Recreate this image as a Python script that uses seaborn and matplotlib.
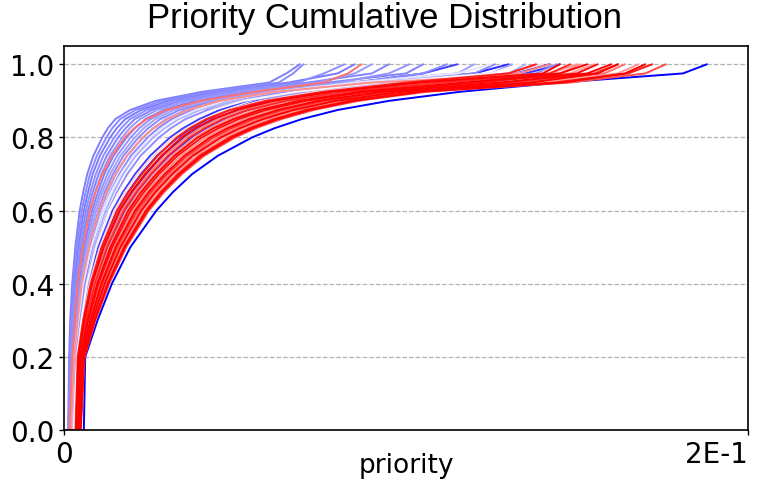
import matplotlib
matplotlib.use("Agg")
import matplotlib.pyplot as plt
import seaborn as sns
import pandas as pd

Q_LEVELS = [0.0, 0.2, 0.3, 0.4, 0.5, 0.6, 0.65, 0.7, 0.75, 0.8,
            0.825, 0.85, 0.875, 0.9, 0.925, 0.95, 0.975, 1.0]

# light blue runs (steep, left bundle)
LIGHT_BLUE_RUNS = [
    [.0012, .0015, .0018, .0024, .0033, .0046, .0056, .0068, .0086, .0112, .0128, .0150, .0193, .0268, .0405, .0600, .0650, .0690],
    [.0013, .0017, .0021, .0027, .0037, .0052, .0063, .0076, .0096, .0124, .0141, .0164, .0209, .0286, .0427, .0628, .0670, .0700],
    [.0014, .0019, .0023, .0030, .0042, .0058, .0070, .0084, .0105, .0135, .0154, .0179, .0225, .0305, .0449, .0656, .0800, .0850],
    [.0015, .0020, .0026, .0034, .0046, .0064, .0077, .0093, .0115, .0147, .0167, .0193, .0241, .0323, .0471, .0684, .0760, .0820],
    [.0015, .0022, .0028, .0037, .0050, .0070, .0084, .0101, .0125, .0158, .0180, .0207, .0257, .0341, .0493, .0712, .0900, .0950],
    [.0016, .0024, .0031, .0040, .0054, .0075, .0091, .0109, .0134, .0170, .0192, .0222, .0272, .0360, .0515, .0740, .0850, .0900],
    [.0017, .0026, .0033, .0044, .0059, .0082, .0099, .0118, .0145, .0183, .0207, .0238, .0291, .0381, .0540, .0772, .1000, .1050],
    [.0018, .0028, .0036, .0047, .0064, .0088, .0106, .0127, .0155, .0195, .0220, .0253, .0307, .0399, .0563, .0800, .0950, .1010],
    [.0019, .0029, .0039, .0050, .0068, .0094, .0112, .0135, .0165, .0207, .0233, .0267, .0322, .0417, .0585, .0828, .1150, .1200],
    [.0020, .0031, .0041, .0053, .0072, .0100, .0119, .0143, .0174, .0218, .0246, .0281, .0338, .0436, .0607, .0856, .1050, .1120],
    [.0021, .0033, .0044, .0057, .0077, .0106, .0127, .0152, .0185, .0232, .0260, .0298, .0356, .0457, .0632, .0888, .1250, .1310],
    [.0022, .0035, .0047, .0061, .0082, .0113, .0135, .0162, .0196, .0245, .0275, .0314, .0375, .0478, .0657, .0920, .1200, .1260],
    [.0023, .0038, .0050, .0065, .0088, .0122, .0145, .0173, .0210, .0261, .0294, .0335, .0397, .0504, .0689, .0960, .1300, .1350],
    [.0024, .0040, .0054, .0070, .0094, .0130, .0155, .0185, .0224, .0278, .0312, .0355, .0420, .0530, .0720, .1000, .1380, .1440],
]
LIGHT_BLUE_SHADES = [0.25, 0.27, 0.24, 0.28, 0.26, 0.3, 0.25, 0.29, 0.32, 0.27,
                     0.3, 0.26, 0.34, 0.28]

# saturated blue runs, last one is the slow outlier
DARK_BLUE_RUNS = [
    [.0030, .0040, .0053, .0070, .0100, .0142, .0172, .0208, .0252, .0310, .0348, .0395, .0455, .0535, .0660, .0850, .1050, .1150],
    [.0035, .0045, .0060, .0079, .0110, .0155, .0187, .0225, .0272, .0333, .0372, .0420, .0482, .0565, .0700, .0900, .1200, .1300],
    [.0038, .0048, .0065, .0086, .0120, .0167, .0201, .0241, .0290, .0352, .0393, .0443, .0508, .0595, .0750, .1000, .1300, .1420],
    [.0040, .0050, .0069, .0092, .0128, .0178, .0214, .0256, .0308, .0373, .0415, .0467, .0535, .0625, .0800, .1050, .1350, .1450],
    [.0058, .0062, .0098, .0140, .0194, .0270, .0318, .0375, .0450, .0550, .0615, .0695, .0800, .0950, .1160, .1450, .1810, .1880],
]
DARK_BLUE_SHADES = [0.12, 0.08, 0.05, 0.1, 0.0]

# pale grey / pink runs sitting between the two bundles
PALE_RUNS = [
    [.0020, .0030, .0042, .0056, .0080, .0113, .0137, .0166, .0203, .0252, .0285, .0326, .0385, .0470, .0620, .0850, .1150, .1250],
    [.0028, .0038, .0051, .0067, .0094, .0132, .0160, .0193, .0235, .0290, .0327, .0373, .0436, .0525, .0680, .0920, .1250, .1330],
    [.0032, .0042, .0057, .0075, .0105, .0147, .0178, .0215, .0261, .0320, .0360, .0410, .0478, .0575, .0740, .0990, .1300, .1400],
    [.0016, .0024, .0031, .0040, .0055, .0076, .0092, .0112, .0140, .0178, .0205, .0242, .0300, .0400, .0560, .0760, .0830, .0870],
    [.0020, .0030, .0040, .0052, .0073, .0102, .0124, .0150, .0184, .0230, .0262, .0303, .0362, .0455, .0620, .0900, .1450, .1510],
]
PALE_SHADES = [0.45, 0.52, 0.58, 0.78, 0.72]

# red runs (main right bundle)
RED_RUNS = [
    [.0034, .0040, .0056, .0078, .0110, .0155, .0188, .0228, .0274, .0330, .0368, .0416, .0485, .0590, .0760, .1000, .1300, .1380],
    [.0035, .0042, .0059, .0082, .0116, .0162, .0196, .0237, .0285, .0344, .0383, .0434, .0505, .0612, .0784, .1038, .1400, .1450],
    [.0036, .0043, .0061, .0086, .0121, .0169, .0204, .0246, .0294, .0356, .0397, .0449, .0522, .0631, .0805, .1072, .1330, .1420],
    [.0037, .0044, .0064, .0090, .0126, .0175, .0211, .0254, .0304, .0367, .0410, .0464, .0539, .0649, .0826, .1106, .1420, .1480],
    [.0039, .0046, .0067, .0094, .0132, .0183, .0219, .0263, .0315, .0381, .0426, .0482, .0559, .0671, .0850, .1144, .1480, .1550],
    [.0039, .0047, .0069, .0097, .0136, .0188, .0225, .0270, .0323, .0391, .0437, .0495, .0573, .0687, .0868, .1173, .1450, .1530],
    [.0040, .0049, .0071, .0101, .0141, .0195, .0233, .0278, .0332, .0403, .0451, .0510, .0590, .0706, .0889, .1206, .1500, .1560],
    [.0042, .0050, .0074, .0105, .0146, .0202, .0240, .0287, .0342, .0415, .0464, .0526, .0608, .0725, .0910, .1240, .1420, .1500],
    [.0043, .0051, .0077, .0109, .0151, .0208, .0247, .0295, .0352, .0427, .0477, .0541, .0625, .0744, .0931, .1274, .1530, .1600],
    [.0043, .0053, .0079, .0112, .0155, .0214, .0254, .0302, .0360, .0437, .0489, .0554, .0639, .0760, .0949, .1302, .1550, .1620],
    [.0045, .0054, .0081, .0116, .0160, .0220, .0261, .0310, .0369, .0449, .0502, .0569, .0657, .0779, .0970, .1336, .1580, .1640],
    [.0045, .0055, .0083, .0119, .0165, .0226, .0267, .0317, .0377, .0459, .0514, .0582, .0671, .0795, .0988, .1365, .1560, .1620],
    [.0046, .0057, .0086, .0123, .0170, .0232, .0274, .0325, .0387, .0471, .0527, .0598, .0688, .0814, .1009, .1398, .1620, .1680],
    [.0048, .0058, .0088, .0127, .0175, .0239, .0282, .0333, .0396, .0483, .0541, .0613, .0706, .0833, .1030, .1432, .1650, .1720],
    [.0048, .0059, .0090, .0129, .0178, .0243, .0287, .0339, .0403, .0492, .0550, .0624, .0718, .0847, .1045, .1456, .1640, .1700],
    [.0049, .0060, .0092, .0132, .0182, .0248, .0292, .0345, .0410, .0500, .0560, .0635, .0730, .0860, .1060, .1480, .1700, .1760],
]
RED_SHADES = [0.95, 1.0, 0.75, 0.92, 0.7, 1.0, 0.97, 0.72, 1.0, 0.9, 0.78,
              1.0, 0.7, 0.95, 1.0, 0.85]

rows = []
groups = [(LIGHT_BLUE_RUNS, LIGHT_BLUE_SHADES), (PALE_RUNS, PALE_SHADES),
          (RED_RUNS, RED_SHADES), (DARK_BLUE_RUNS, DARK_BLUE_SHADES)]
run_id = 0
for runs, shades in groups:
    for xs, shade in zip(runs, shades):
        # flat at zero from the origin, then the read-off quantiles
        rows.append({"run": run_id, "priority": 0.0, "cdf": 0.0, "shade": shade})
        for xv, q in zip(xs, Q_LEVELS):
            rows.append({"run": run_id, "priority": xv, "cdf": q, "shade": shade})
        run_id += 1
df = pd.DataFrame(rows)

sns.set_style("ticks", {"text.color": "black", "axes.labelcolor": "black",
                        "xtick.color": "black", "ytick.color": "black",
                        "axes.edgecolor": "black"})
plt.rcParams["font.family"] = ["DejaVu Sans"]

fig, ax = plt.subplots(figsize=(7.62, 4.89), dpi=100)
fig.subplots_adjust(left=0.084, right=0.9816, bottom=0.1186, top=0.9039)

sns.lineplot(data=df, x="priority", y="cdf", hue="shade", units="run",
             estimator=None, sort=False, palette="bwr", hue_norm=(0, 1),
             linewidth=1.4, legend=False, ax=ax)

ax.set_xlim(0, 0.2)
ax.set_ylim(0, 1.05)
ax.set_xticks([0, 0.2])
ax.set_xticklabels(["0", "2E-1"])
ax.get_xticklabels()[-1].set_horizontalalignment("right")
ax.set_yticks([0.0, 0.2, 0.4, 0.6, 0.8, 1.0])
ax.set_yticklabels(["0.0", "0.2", "0.4", "0.6", "0.8", "1.0"])
ax.tick_params(labelsize=20, color="black", width=1)
ax.yaxis.grid(True, linestyle="--", color="0.7", linewidth=0.9)
ax.xaxis.grid(False)
for s in ax.spines.values():
    s.set_linewidth(1.2)

ax.set_xlabel("priority", fontsize=19, labelpad=-11)
ax.set_ylabel("")
fig.suptitle("Priority Cumulative Distribution", fontsize=25,
             family=["Liberation Sans", "DejaVu Sans"], x=0.505, y=0.995)

fig.savefig("out.png", dpi=100)
